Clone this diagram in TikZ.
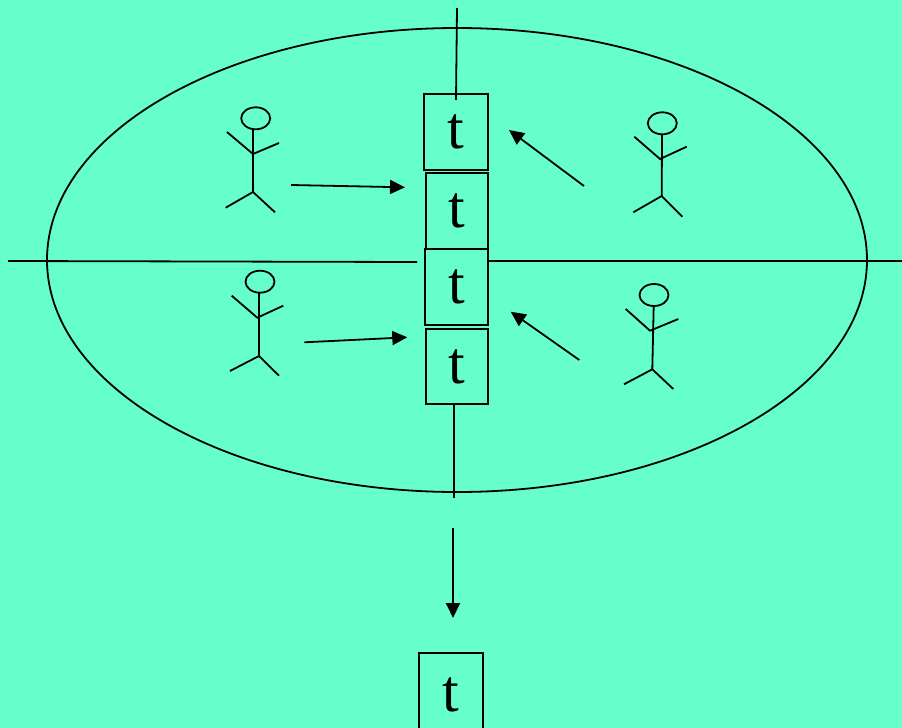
\documentclass[tikz,border=0pt]{standalone}
\usepackage{fontspec}
\setmainfont{Liberation Serif}
\usetikzlibrary{arrows.meta,shapes.geometric}
\definecolor{bg}{RGB}{102,255,204}
\begin{document}
\begin{tikzpicture}[x=1pt,y=-1pt,line width=1.8pt,
  tbox/.style={draw,line width=2pt,minimum width=64pt,inner sep=0pt,font=\fontsize{60}{60}\selectfont},
  arr/.style={-{Triangle[length=15pt,width=14pt]}},
  headshape/.style={draw,ellipse,minimum width=29pt,minimum height=22pt,inner sep=0pt,line width=1.8pt}]
\fill[bg] (0,0) rectangle (902,728);
\useasboundingbox (0,0) rectangle (902,728);
% ellipse
\draw (457,260) ellipse [x radius=410pt, y radius=232pt];
% horizontal line
\draw (8,261) -- (417,262);
\draw (488,261) -- (902,261);
% boxes
\node[tbox,minimum height=76pt] (b1) at (456,131.5) {t};
\node[tbox,minimum width=62pt,minimum height=76pt] (b2) at (457,211) {t};
\node[tbox,minimum width=63pt,minimum height=76pt] (b3) at (456.5,287) {t};
\node[tbox,minimum width=62pt,minimum height=75pt] (b4) at (457,366.5) {t};
\node[tbox,minimum height=84pt] (b5) at (450.5,695) {t};
% vertical lines
\coordinate (vt) at (457,8);
\coordinate (vte) at (456,100);
\draw (vt) -- (vte);
\coordinate (vb) at (454,498);
\draw (b4.south -| vb) -- (vb);
\coordinate (ds) at (453,528);
\coordinate (de) at (453,618);
\draw[arr] (ds) -- (de);
% stick figures
\newcommand{\stick}[9]{%
 \node[headshape] (#1) at #2 {};
 \draw #9 -- #4;
 \draw #5 -- #3 -- #6;
 \draw #7 -- #4 -- #8;
}
\stick{p1}{(255.7,118.3)}{(253,154)}{(253,192)}{(227,132)}{(279,143)}{(225.7,207.7)}{(275,212.3)}{(253,129.5)}
\stick{p2}{(260,281.7)}{(257.3,317.7)}{(259,356)}{(231.7,295.7)}{(283.3,305.7)}{(230,371)}{(279,375.7)}{(259,293)}
\stick{p3}{(662.3,123.3)}{(660,159)}{(661.7,196)}{(634.3,136.7)}{(686.7,146.7)}{(633.3,212.3)}{(682.3,216.7)}{(662,134.5)}
\stick{p4}{(654,295)}{(650,330.7)}{(652.3,369.3)}{(625.7,309)}{(678.3,319)}{(624,384.3)}{(673.3,389)}{(653.7,306)}
% arrows
\coordinate (a1s) at (291,185); \coordinate (a1e) at (405,187.3);
\coordinate (a2s) at (304.3,342.3); \coordinate (a2e) at (407.3,337.3);
\coordinate (a3s) at (584,186); \coordinate (a3e) at (509,130);
\coordinate (a4s) at (579.3,360); \coordinate (a4e) at (510.7,311.7);
\draw[arr] (a1s) -- (a1e);
\draw[arr] (a2s) -- (a2e);
\draw[arr] (a3s) -- (a3e);
\draw[arr] (a4s) -- (a4e);
\end{tikzpicture}
\end{document}
